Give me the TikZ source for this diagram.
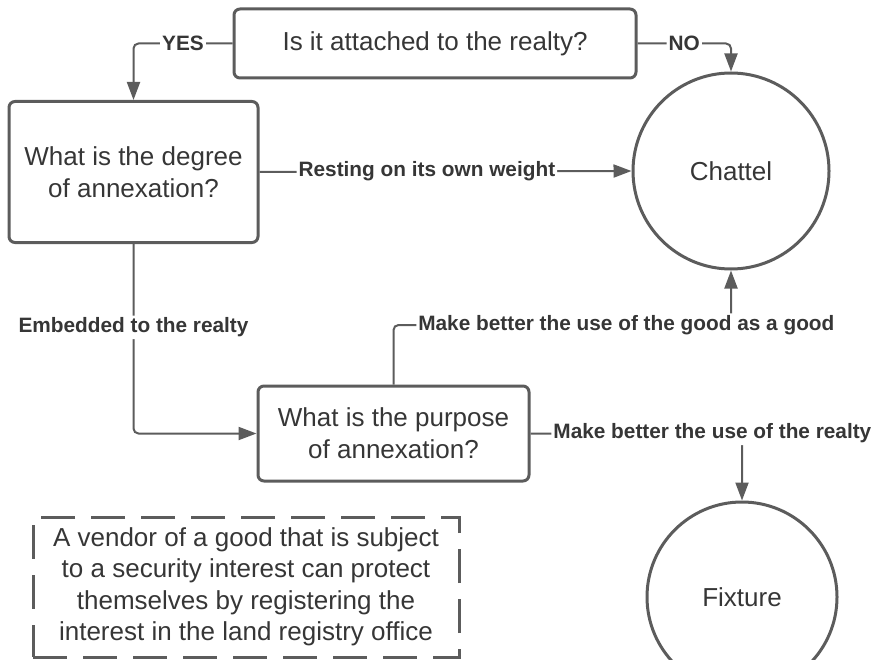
\documentclass[tikz,border=0pt]{standalone}
\usepackage{fontspec}
\setmainfont{Liberation Sans}
\usetikzlibrary{arrows.meta}
\definecolor{linegray}{HTML}{5C5C5C}
\definecolor{textgray}{HTML}{363636}
\tikzstyle{question}=[draw=linegray, line width=3pt, rounded corners=6pt, text=textgray, align=center, font=\fontsize{26}{32}\selectfont]
\tikzstyle{result}=[circle, draw=linegray, line width=3pt, text=textgray, font=\fontsize{26}{32}\selectfont]
\tikzstyle{note}=[draw=linegray, line width=3pt, dash pattern=on 34pt off 16pt, text=textgray, align=center, font=\fontsize{26}{31.5}\selectfont]
\tikzstyle{link}=[draw=linegray, line width=2pt, rounded corners=5pt, -{Triangle[length=18pt,width=13pt]}]
\tikzstyle{edge label}=[fill=white, text=textgray, inner sep=2pt, font=\fontsize{20.8}{24}\selectfont\bfseries]

\begin{document}
\begin{tikzpicture}[x=1pt,y=-1pt]
   \useasboundingbox (0,0) rectangle (885,660);
   \clip (0,0) rectangle (885,660);
   \node[question, minimum width=402pt, minimum height=69pt] (attach) at (435,43.5) {Is it attached to the realty?};
   \node[question, minimum width=249pt, minimum height=141pt] (degree) at (133.5,172) {What is the degree\\of annexation?};
   \node[question, minimum width=271pt, minimum height=95pt] (purpose) at (393.5,433.5) {What is the purpose\\of annexation?};
   \node[result, minimum size=196pt] (chattel) at (731,171) {Chattel};
   \node[result, minimum size=190pt] (fixture) at (742,597) {Fixture};
   \node[note, minimum width=426pt, minimum height=140pt] (vendor) at (246,587) {A vendor of a good that is subject\\to a security interest can protect\\themselves by registering the\\interest in the land registry office};
   \coordinate (goodbend) at (731,325);

   \draw[link] (attach.west) -| node[edge label, pos=0.25] {YES} (degree.north);
   \draw[link] (attach.east) -| node[edge label, pos=0.25] {NO} (chattel.north);
   \draw[link] (degree.east) -- node[edge label, pos=0.45] {Resting on its own weight} (chattel.west);
   \draw[link] (degree.south) |- node[edge label, pos=0.22] {Embedded to the realty} (purpose.west);
   \draw[link] (purpose.north) |- node[edge label, pos=0.845] {Make better the use of the good as a good} (goodbend) -- (chattel.south);
   \draw[link] (purpose.east) -| node[edge label, pos=0.43] {Make better the use of the realty} (fixture.north);
\end{tikzpicture}
\end{document}
